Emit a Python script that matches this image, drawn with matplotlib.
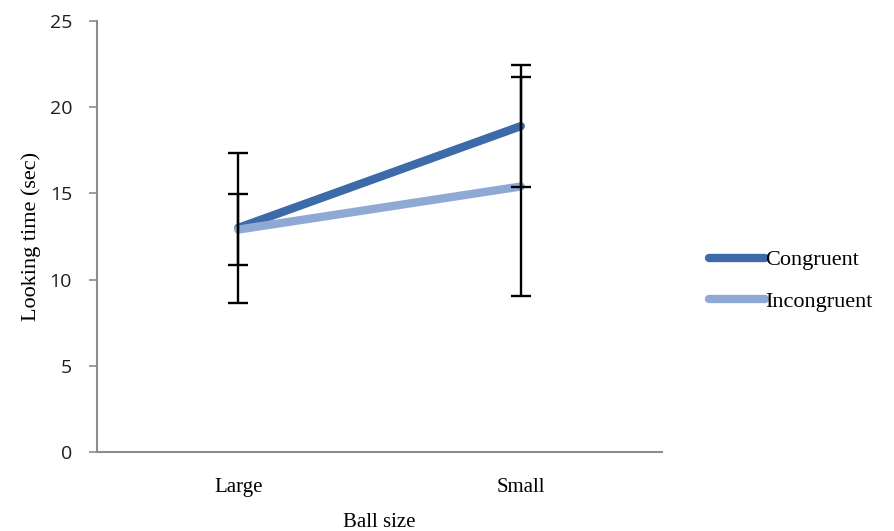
import matplotlib
matplotlib.use('Agg')
import matplotlib.pyplot as plt

# Datos: tiempo de mirada medio (s) y error por tamaño de la pelota
tamanos = ['Large', 'Small']
congruente = [13.0, 18.9]
incongruente = [12.9, 15.4]
err_congruente = [4.35, 3.55]
err_incongruente = [2.05, 6.35]

color_cong = '#3d6aa9'
color_incong = '#8fa9d5'
serif = 'Liberation Serif'

fig = plt.figure(figsize=(8.95, 5.31), dpi=100)
ax = fig.add_axes([0.1084, 0.1488, 0.6313, 0.8117])

x = list(range(len(tamanos)))
ax.plot(x, congruente, color=color_cong, lw=6, solid_capstyle='round',
        label='Congruent', zorder=2)
ax.plot(x, incongruente, color=color_incong, lw=6, solid_capstyle='round',
        label='Incongruent', zorder=2)

# Barras de error encima de las líneas
ax.errorbar(x, congruente, yerr=err_congruente, fmt='none', ecolor='black',
            elinewidth=1.7, capsize=7, capthick=1.7, zorder=3)
ax.errorbar(x, incongruente, yerr=err_incongruente, fmt='none', ecolor='black',
            elinewidth=1.7, capsize=7, capthick=1.7, zorder=3)

ax.set_xlim(-0.5, 1.5)
ax.set_ylim(0, 25)
ax.set_yticks([0, 5, 10, 15, 20, 25])
ax.set_xticks(x)
ax.set_xticklabels(tamanos, fontfamily=serif, fontsize=15)
ax.tick_params(axis='x', length=0, pad=19)
ax.tick_params(axis='y', length=6, width=1.2, color='#8c8c8c', pad=12,
               labelsize=14)
for lbl in ax.get_yticklabels():
    lbl.set_fontfamily('Open Sans')
    lbl.set_color('#1e1e1e')

for lado in ['top', 'right']:
    ax.spines[lado].set_visible(False)
for lado in ['left', 'bottom']:
    ax.spines[lado].set_color('#8c8c8c')
    ax.spines[lado].set_linewidth(1.5)

ax.set_xlabel('Ball size', fontfamily=serif, fontsize=15, labelpad=11)
ax.set_ylabel('Looking time (sec)', fontfamily=serif, fontsize=16, labelpad=6)

fig.legend(loc='center left', bbox_to_anchor=(0.782, 0.471), frameon=False,
           prop={'family': serif, 'size': 16}, handlelength=2.55,
           handletextpad=0.0, labelspacing=0.95, borderaxespad=0)

fig.savefig('out.png', dpi=100)
